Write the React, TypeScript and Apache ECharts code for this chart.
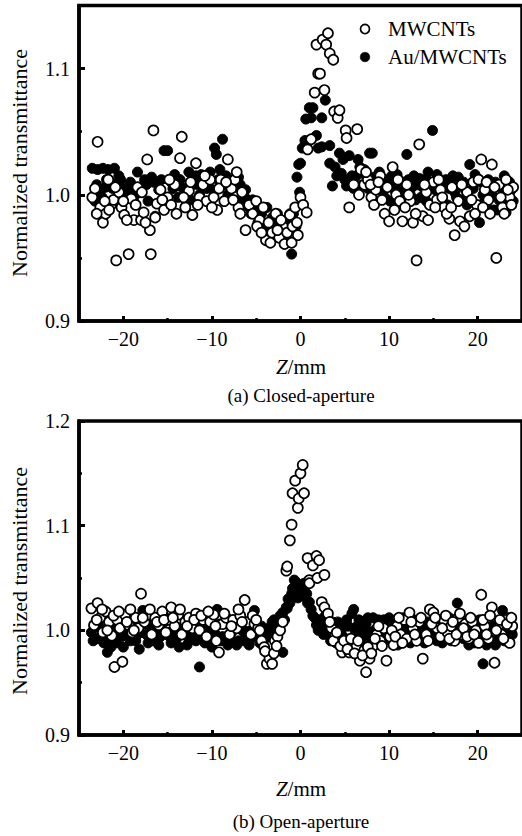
import React, { useEffect, useRef } from "react";
import * as echarts from "echarts";

const FONT = '"Liberation Serif", "Times New Roman", Times, serif';

// axis ticks
const xMajorTicks = [-20, -10, 0, 10, 20];
const xMinorTicks = [-15, -5, 5, 15];
const yMajorTicksA = [0.9, 1.0, 1.1];
const yMinorTicksA = [0.95, 1.05];
const yMajorTicksB = [0.9, 1.0, 1.1, 1.2];
const yMinorTicksB = [0.95, 1.05, 1.15];

const seriesNames = ["MWCNTs", "Au/MWCNTs"];

// (a) Closed-aperture, MWCNTs [Z(mm), T]
const closedMW: number[][] = [
  [-23.5, 0.998], [-23.2, 1.005], [-22.9, 1.042], [-22.6, 0.99], [-22.3, 0.978], [-22.0, 0.985],
  [-21.7, 1.012], [-21.4, 0.992], [-21.1, 0.996], [-20.8, 0.948], [-20.5, 1.002], [-20.2, 0.99],
  [-19.9, 0.984], [-19.4, 0.953], [-19.1, 0.997], [-18.8, 0.98], [-18.4, 1.006], [-18.0, 0.98],
  [-17.7, 0.986], [-17.3, 1.028], [-17.0, 0.972], [-16.9, 0.953], [-16.6, 1.051], [-16.2, 0.993],
  [-15.8, 1.004], [-15.4, 0.988], [-15.0, 0.998], [-14.6, 0.992], [-14.2, 1.008], [-13.6, 1.029],
  [-13.4, 1.046], [-13.0, 0.99], [-12.6, 1.003], [-12.2, 0.984], [-11.8, 1.025], [-11.4, 0.998],
  [-11.0, 1.008], [-10.6, 0.995], [-10.2, 1.012], [-9.8, 0.998], [-9.4, 0.988], [-9.0, 1.012],
  [-8.6, 0.995], [-8.2, 1.028], [-7.8, 1.005], [-7.4, 1.012], [-7.0, 0.99], [-6.6, 1.002],
  [-6.2, 0.972], [-5.8, 0.992], [-5.4, 0.985], [-5.0, 0.995], [-4.6, 0.98], [-4.2, 0.99],
  [-3.9, 0.964], [-3.6, 0.978], [-3.2, 0.97], [-2.8, 0.985], [-2.4, 0.966], [-2.0, 0.975],
  [-1.8, 0.961], [-1.5, 0.97], [-1.2, 0.984], [-0.9, 0.975], [-0.6, 0.99], [-0.3, 0.968],
  [0.0, 0.998], [0.3, 0.992], [0.7, 0.986], [0.8, 1.036], [1.2, 1.044], [1.6, 1.081],
  [1.8, 1.119], [2.0, 1.096], [2.2, 1.096], [2.5, 1.123], [2.7, 1.083], [2.9, 1.119],
  [3.1, 1.128], [3.3, 1.112], [3.7, 1.107], [3.8, 1.066], [4.2, 1.061], [4.4, 1.067],
  [5.1, 1.051], [5.2, 1.045], [5.5, 0.99], [6.4, 1.052], [6.8, 1.02], [7.2, 1.008],
  [7.6, 1.012], [8.0, 0.998], [8.5, 1.004], [9.0, 1.015], [9.5, 0.985], [10.0, 0.979],
  [10.4, 1.022], [10.8, 1.0], [11.2, 0.995], [11.5, 0.979], [12.0, 1.008], [12.4, 0.995],
  [12.7, 0.978], [13.1, 0.948], [13.4, 1.04], [13.8, 0.983], [14.2, 1.002], [14.6, 0.992],
  [15.0, 1.01], [15.4, 0.996], [15.8, 1.004], [16.2, 0.99], [16.8, 0.981], [17.1, 1.006],
  [17.4, 0.968], [17.8, 0.995], [18.0, 0.979], [18.5, 0.975], [18.8, 1.002], [19.1, 0.983],
  [19.5, 1.01], [19.9, 0.992], [20.4, 1.028], [20.8, 1.004], [21.2, 0.996], [21.6, 1.024],
  [22.1, 0.95], [22.4, 1.008], [22.8, 0.99], [23.2, 1.012], [23.6, 0.998], [24.0, 1.006],
];
const closedMWExtra: number[][] = [
  [-23.0, 0.985], [-22.1, 0.995], [-21.6, 0.988], [-20.9, 1.006], [-20.0, 0.995], [-19.6, 0.98],
  [-18.6, 0.992], [-17.9, 1.002], [-17.5, 0.978], [-16.4, 0.982], [-15.6, 0.996], [-14.8, 1.012],
  [-14.0, 0.985], [-13.2, 0.998], [-12.4, 1.01], [-11.6, 0.992], [-10.8, 1.015], [-10.0, 0.99],
  [-9.2, 1.005], [-8.4, 1.01], [-7.6, 0.996], [-7.2, 1.018], [-6.8, 0.985], [-4.9, 0.975],
  [-4.4, 0.97], [-3.4, 0.962], [-2.6, 0.972], [-2.2, 0.98], [-1.0, 0.962], [-0.4, 0.978],
  [6.0, 1.008], [6.6, 1.0], [7.4, 1.018], [7.9, 1.008], [8.3, 0.992], [8.8, 1.01],
  [9.2, 0.996], [9.8, 1.006], [10.6, 0.988], [11.0, 1.012], [11.8, 0.99], [12.2, 1.0],
  [13.0, 0.985], [14.0, 1.008], [14.4, 0.98], [15.2, 0.99], [15.6, 1.012], [16.0, 0.998],
  [16.5, 0.985], [17.0, 0.99], [18.2, 1.008], [19.3, 0.996], [19.7, 0.985], [20.1, 1.012],
  [20.6, 0.99], [21.0, 1.01], [21.4, 0.985], [21.9, 1.006], [22.6, 0.998], [23.0, 0.985],
  [23.4, 1.004], [23.8, 0.992],
];

// (a) Closed-aperture, Au/MWCNTs
const closedAu: number[][] = [
  [-23.5, 1.021], [-23.2, 0.995], [-22.9, 1.02], [-22.6, 1.003], [-22.3, 1.021], [-22.0, 1.006],
  [-21.7, 1.02], [-21.4, 1.01], [-21.0, 1.021], [-20.7, 1.004], [-20.3, 1.012], [-20.0, 1.008],
  [-19.6, 1.002], [-19.2, 1.01], [-18.8, 0.998], [-18.4, 1.018], [-18.0, 1.006], [-17.6, 1.012],
  [-17.2, 0.995], [-16.8, 1.014], [-16.4, 0.983], [-16.0, 1.004], [-15.4, 1.035], [-15.0, 1.035],
  [-14.6, 1.01], [-14.2, 1.016], [-13.8, 0.998], [-13.4, 1.006], [-13.0, 0.99], [-12.6, 1.018],
  [-12.2, 1.008], [-11.8, 1.015], [-11.4, 1.0], [-11.0, 1.012], [-10.6, 1.005], [-10.2, 1.018],
  [-9.7, 1.037], [-9.5, 1.032], [-9.1, 1.02], [-8.8, 1.044], [-8.4, 1.015], [-8.0, 1.005],
  [-7.6, 1.012], [-7.2, 0.995], [-6.8, 1.008], [-6.4, 1.0], [-6.0, 0.996], [-5.6, 0.985],
  [-5.2, 0.99], [-4.8, 0.978], [-4.4, 0.985], [-4.0, 0.975], [-3.8, 0.99], [-3.5, 0.972],
  [-3.2, 0.982], [-2.8, 0.97], [-2.5, 0.978], [-2.2, 0.972], [-1.9, 0.968], [-1.6, 0.98],
  [-1.3, 0.975], [-1.0, 0.953], [-0.8, 0.985], [-0.5, 0.975], [-0.4, 1.014], [-0.2, 1.024],
  [-0.1, 1.002], [0.0, 1.025], [0.2, 1.037], [0.5, 1.043], [0.6, 1.06], [1.0, 1.069],
  [1.2, 1.061], [1.4, 1.069], [1.8, 1.047], [2.0, 1.037], [2.4, 1.061], [2.4, 1.038],
  [2.8, 1.075], [3.3, 1.039], [3.3, 1.025], [3.6, 1.007], [4.1, 1.015], [4.4, 1.033],
  [4.6, 1.017], [5.2, 1.007], [5.5, 1.031], [5.8, 1.015], [6.3, 1.015], [6.7, 1.022],
  [7.0, 1.008], [7.4, 1.015], [7.8, 1.033], [8.1, 1.033], [8.5, 1.01], [8.9, 1.018],
  [9.3, 1.005], [9.7, 1.012], [10.1, 0.995], [10.5, 1.01], [10.9, 1.016], [11.3, 1.004],
  [11.7, 1.01], [12.0, 1.032], [12.4, 1.0], [12.8, 1.015], [13.2, 1.008], [13.6, 0.998],
  [14.0, 1.012], [14.4, 1.018], [14.9, 1.051], [15.2, 1.004], [15.6, 1.01], [16.0, 0.995],
  [16.4, 1.012], [16.8, 1.005], [17.2, 1.015], [17.6, 0.998], [18.0, 1.008], [18.4, 1.01],
  [18.8, 0.992], [19.1, 1.024], [19.5, 1.005], [19.9, 1.012], [20.2, 0.978], [20.6, 1.0],
  [21.0, 0.99], [21.4, 1.008], [21.8, 0.988], [22.2, 0.988], [22.7, 0.989], [23.0, 1.015],
  [23.4, 0.996], [23.8, 1.004],
];
const closedAuExtra: number[][] = [
  [-23.0, 1.008], [-22.4, 0.998], [-21.9, 1.012], [-21.2, 1.005], [-20.5, 1.015], [-19.9, 0.996],
  [-19.0, 1.006], [-18.2, 1.002], [-17.4, 1.008], [-16.6, 1.01], [-15.7, 1.012], [-15.2, 0.998],
  [-14.4, 1.005], [-13.6, 1.012], [-12.9, 1.004], [-12.4, 0.996], [-11.6, 1.008], [-11.2, 1.016],
  [-10.4, 1.01], [-9.9, 1.004], [-9.3, 1.012], [-8.6, 1.008], [-8.2, 1.0], [-7.4, 1.006],
  [-7.0, 1.014], [-6.6, 0.994], [-6.2, 1.004], [-5.8, 0.99], [-5.4, 0.996], [-4.6, 0.982],
  [-4.2, 0.97], [-3.0, 0.975], [-2.6, 0.985], [-2.0, 0.975], [-1.4, 0.97], [-1.2, 0.985],
  [3.9, 1.022], [4.8, 1.028], [5.0, 1.012], [6.0, 1.005], [6.5, 1.028], [7.2, 1.02],
  [7.6, 1.005], [8.3, 1.014], [8.7, 1.004], [9.1, 1.012], [9.5, 0.998], [9.9, 1.008],
  [10.3, 1.015], [10.7, 1.003], [11.1, 1.01], [11.5, 0.998], [12.2, 1.012], [12.6, 1.006],
  [13.0, 0.996], [13.4, 1.013], [13.8, 1.006], [14.2, 0.995], [14.7, 1.01], [15.4, 1.016],
  [15.8, 0.998], [16.2, 1.006], [16.6, 0.992], [17.0, 1.008], [17.4, 1.002], [17.8, 1.014],
  [18.2, 0.996], [18.6, 1.004], [19.3, 0.996], [19.7, 1.016], [20.4, 1.01], [20.8, 0.995],
  [21.2, 1.012], [21.6, 1.0], [22.0, 1.01], [22.4, 0.996], [22.9, 1.004], [23.2, 0.986],
  [23.6, 1.01], [24.0, 0.995],
];

// (b) Open-aperture, MWCNTs
const openMW: number[][] = [
  [-23.6, 1.021], [-23.3, 1.005], [-22.9, 1.026], [-22.6, 1.012], [-22.3, 0.998], [-22.0, 1.018],
  [-21.6, 1.008], [-21.3, 0.995], [-21.0, 0.965], [-20.7, 1.01], [-20.4, 1.002], [-20.1, 0.97],
  [-19.8, 1.015], [-19.4, 1.005], [-19.0, 0.998], [-18.6, 1.012], [-18.3, 1.002], [-18.0, 1.035],
  [-17.6, 1.008], [-17.2, 1.015], [-16.8, 0.996], [-16.4, 1.012], [-16.0, 1.005], [-15.6, 1.018],
  [-15.2, 0.998], [-14.9, 1.01], [-14.6, 1.022], [-14.2, 1.004], [-13.8, 1.015], [-13.4, 0.996],
  [-13.0, 1.008], [-12.6, 1.012], [-12.2, 1.002], [-11.8, 1.016], [-11.4, 1.0], [-11.0, 1.01],
  [-10.6, 0.994], [-10.2, 1.008], [-9.8, 1.015], [-9.5, 0.99], [-9.2, 0.979], [-8.8, 1.006],
  [-8.4, 1.012], [-8.0, 0.996], [-7.6, 1.01], [-7.2, 1.002], [-6.8, 1.014], [-6.3, 1.029],
  [-6.0, 1.008], [-5.6, 0.996], [-5.2, 1.006], [-4.8, 1.002], [-4.4, 0.99], [-4.1, 0.984],
  [-3.8, 0.968], [-3.5, 0.973], [-3.2, 0.968], [-2.9, 0.99], [-2.6, 0.994], [-2.3, 1.0],
  [-2.0, 1.008], [-1.6, 1.057], [-1.5, 1.061], [-1.2, 1.086], [-1.0, 1.101], [-0.9, 1.131],
  [-0.6, 1.143], [-0.3, 1.117], [-0.2, 1.126], [0.0, 1.15], [0.25, 1.158], [0.4, 1.131],
  [0.8, 1.069], [1.0, 1.048], [1.0, 1.045], [1.4, 1.062], [1.8, 1.071], [1.9, 1.05],
  [2.1, 1.067], [2.4, 1.027], [2.7, 1.053], [2.7, 1.022], [3.1, 1.016], [3.5, 1.002],
  [3.9, 0.995], [4.3, 0.988], [4.7, 0.979], [5.1, 0.99], [5.5, 0.979], [5.9, 0.986],
  [6.3, 0.984], [6.7, 0.971], [7.2, 0.981], [7.4, 0.96], [7.8, 0.973], [8.2, 0.985],
  [8.6, 0.996], [9.0, 0.99], [9.4, 1.002], [9.7, 0.971], [10.1, 0.994], [10.5, 0.986],
  [10.9, 1.004], [11.3, 0.996], [11.7, 1.01], [12.0, 0.992], [12.3, 1.017], [12.7, 1.002],
  [13.1, 0.99], [13.4, 1.008], [13.8, 0.973], [14.2, 0.996], [14.6, 1.02], [15.0, 1.017],
  [15.4, 1.002], [15.8, 0.994], [16.2, 1.01], [16.6, 0.998], [17.0, 1.004], [17.4, 0.99],
  [17.8, 1.012], [18.2, 0.996], [18.6, 1.006], [19.0, 0.992], [19.4, 1.008], [19.8, 1.0],
  [20.1, 0.988], [20.4, 1.034], [20.8, 1.004], [21.2, 0.992], [21.6, 1.022], [21.9, 0.969],
  [22.3, 1.002], [22.7, 0.996], [23.1, 1.01], [23.6, 0.988], [23.9, 1.004],
];
const openMWExtra: number[][] = [
  [-23.0, 1.01], [-22.4, 1.02], [-21.8, 1.0], [-21.1, 1.014], [-20.5, 1.018], [-19.6, 1.008],
  [-19.2, 1.02], [-18.8, 1.0], [-17.8, 1.012], [-17.0, 1.02], [-16.2, 1.008], [-15.4, 1.01],
  [-14.4, 1.012], [-13.6, 1.02], [-12.8, 1.004], [-12.0, 1.01], [-11.2, 1.014], [-10.4, 1.018],
  [-9.6, 1.004], [-8.6, 1.016], [-7.8, 1.004], [-7.0, 1.02], [-6.6, 1.008], [-5.4, 1.014],
  [-5.0, 1.01], [-4.6, 1.0], [-4.0, 0.98], [-3.0, 0.978], [-2.7, 0.985],
  [3.3, 1.008], [3.7, 0.99], [4.1, 0.998], [4.5, 0.985], [4.9, 0.99], [5.3, 0.982],
  [5.7, 0.992], [6.1, 0.978], [6.5, 0.99], [7.0, 0.976], [7.6, 0.984], [8.0, 0.978],
  [8.4, 0.992], [8.8, 1.004], [9.2, 0.985], [10.3, 1.0], [10.7, 0.994], [11.1, 1.012],
  [11.5, 0.988], [12.5, 1.008], [12.9, 0.996], [13.6, 1.012], [14.4, 0.99], [14.8, 1.006],
  [15.2, 1.012], [16.0, 1.002], [16.4, 1.014], [16.8, 0.992], [17.2, 1.008], [17.6, 0.996],
  [18.0, 1.016], [18.4, 1.002], [18.8, 0.994], [19.2, 1.012], [19.6, 0.996], [20.6, 1.01],
  [21.0, 0.996], [21.4, 1.014], [22.1, 1.0], [22.5, 1.01], [22.9, 0.992], [23.3, 1.006],
  [23.8, 1.012],
];

// (b) Open-aperture, Au/MWCNTs
const openAu: number[][] = [
  [-23.6, 0.998], [-23.3, 1.004], [-23.0, 0.992], [-22.6, 1.002], [-22.2, 0.988], [-21.8, 0.979],
  [-21.4, 0.984], [-21.0, 0.998], [-20.6, 1.008], [-20.2, 0.994], [-19.8, 1.004], [-19.4, 0.996],
  [-19.0, 1.01], [-18.6, 0.99], [-18.2, 0.982], [-17.8, 1.019], [-17.4, 0.996], [-17.0, 1.006],
  [-16.6, 0.99], [-16.2, 1.002], [-15.8, 0.994], [-15.4, 1.008], [-15.0, 0.996], [-14.6, 0.988],
  [-14.2, 1.004], [-13.7, 0.984], [-13.4, 0.998], [-13.0, 1.006], [-12.6, 0.992], [-12.2, 1.002],
  [-11.8, 0.99], [-11.4, 0.965], [-11.0, 0.996], [-10.6, 1.004], [-10.2, 0.992], [-9.8, 1.0],
  [-9.4, 1.02], [-9.0, 0.99], [-8.6, 1.006], [-8.2, 0.986], [-7.8, 0.998], [-7.4, 1.004],
  [-7.0, 0.99], [-6.6, 1.0], [-6.2, 0.994], [-5.8, 0.986], [-5.5, 1.004], [-5.2, 1.019],
  [-4.8, 0.996], [-4.4, 1.004], [-4.0, 0.992], [-3.6, 1.002], [-3.2, 1.008], [-2.8, 0.998],
  [-2.5, 1.006], [-2.2, 1.012], [-2.0, 0.979], [-2.0, 1.017], [-1.5, 1.021], [-1.2, 1.026],
  [-1.0, 1.035], [-0.7, 1.048], [-0.5, 1.046], [-0.3, 1.031], [0.1, 1.043], [0.2, 1.038],
  [0.5, 1.032], [0.8, 1.026], [1.0, 1.027], [1.4, 1.014], [1.8, 1.005], [2.2, 1.01],
  [2.6, 0.996], [3.0, 1.004], [3.4, 0.99], [3.8, 0.996], [4.2, 1.008], [4.6, 1.0],
  [5.0, 0.99], [5.4, 1.004], [5.8, 1.016], [6.2, 0.998], [6.6, 1.01], [7.0, 0.994],
  [7.4, 1.006], [7.8, 0.998], [8.2, 1.012], [8.6, 1.002], [9.0, 0.994], [9.4, 1.01],
  [9.8, 1.0], [10.2, 0.99], [10.6, 1.004], [11.0, 0.986], [11.4, 1.0], [11.8, 1.008],
  [12.2, 0.994], [12.6, 1.004], [13.0, 0.998], [13.4, 1.01], [13.8, 0.992], [14.2, 1.004],
  [14.6, 0.996], [15.0, 1.008], [15.4, 0.99], [15.8, 1.002], [16.2, 0.994], [16.6, 1.006],
  [17.0, 0.99], [17.4, 1.0], [17.7, 1.026], [18.0, 1.004], [18.4, 0.992], [18.8, 1.008],
  [19.2, 0.998], [19.6, 0.988], [20.0, 1.004], [20.3, 0.996], [20.6, 0.968], [21.0, 0.986],
  [21.4, 1.002], [21.8, 0.99], [22.2, 1.006], [22.5, 0.994], [22.8, 1.019], [23.2, 1.0],
  [23.6, 1.008], [23.9, 0.996],
];
const openAuExtra: number[][] = [
  [-23.4, 0.99], [-22.8, 1.008], [-22.4, 0.996], [-21.6, 0.992], [-21.2, 1.006], [-20.8, 0.988],
  [-20.4, 1.0], [-20.0, 0.984], [-19.6, 1.01], [-19.2, 0.99], [-18.8, 1.004], [-18.4, 0.996],
  [-17.6, 1.006], [-17.2, 0.988], [-16.8, 0.998], [-16.4, 1.01], [-16.0, 0.986], [-15.6, 1.0],
  [-15.2, 1.012], [-14.8, 0.994], [-14.4, 1.0], [-14.0, 0.992], [-13.2, 1.004], [-12.8, 0.986],
  [-12.4, 0.998], [-12.0, 1.01], [-11.6, 0.996], [-11.2, 1.006], [-10.8, 0.988], [-10.4, 1.0],
  [-10.0, 0.984], [-9.6, 0.996], [-9.2, 1.006], [-8.8, 0.994], [-8.4, 1.01], [-8.0, 0.992],
  [-7.6, 1.0], [-7.2, 0.986], [-6.8, 1.008], [-6.4, 0.99], [-6.0, 1.004], [-5.6, 0.992],
  [-5.0, 1.0], [-4.6, 0.988], [-4.2, 1.0], [-3.8, 0.994], [-3.4, 0.996], [-3.0, 1.01],
  [-2.6, 1.004], [-2.3, 1.014], [-1.8, 1.01], [-1.6, 1.022], [-1.4, 1.03], [-0.9, 1.04],
  [-0.4, 1.038], [0.0, 1.033], [0.4, 1.045], [0.7, 1.035], [1.2, 1.02], [1.6, 1.012],
  [2.0, 1.0], [2.4, 1.006], [2.8, 1.014], [3.2, 0.996], [3.6, 1.008], [4.0, 0.988],
  [4.4, 1.004], [4.8, 0.994], [5.2, 1.01], [5.6, 0.992], [6.0, 1.02], [6.4, 1.004],
  [6.8, 0.988], [7.2, 1.0], [7.6, 1.012], [8.0, 0.99], [8.4, 1.0], [8.8, 1.01],
  [9.2, 0.988], [9.6, 1.004], [10.0, 1.012], [10.4, 0.996], [10.8, 1.008], [11.2, 0.992],
  [11.6, 1.012], [12.0, 1.0], [12.4, 0.988], [12.8, 1.01], [13.2, 0.994], [13.6, 1.004],
  [14.0, 0.988], [14.4, 1.008], [14.8, 1.0], [15.2, 0.996], [15.6, 1.01], [16.0, 0.988],
  [16.4, 0.998], [16.8, 1.012], [17.2, 0.994], [18.2, 1.008], [18.6, 0.996], [19.0, 0.986],
  [19.4, 1.004], [19.8, 0.992], [20.2, 1.01], [20.9, 1.0], [21.2, 0.988], [21.6, 1.004],
  [22.0, 0.986], [22.4, 1.0], [23.0, 0.99], [23.4, 1.012], [23.8, 0.998],
];

const minusFmt = (v: number) => (v < 0 ? "\u2212" + Math.abs(v) : String(v));

function xAxes(gridIndex: number) {
  const common = {
    gridIndex,
    type: "value" as const,
    min: -25,
    max: 25,
    position: "bottom" as const,
    splitLine: { show: false },
  };
  return [
    {
      ...common,
      axisLine: { show: true, onZero: false, lineStyle: { color: "#000", width: 3.5 } },
      axisTick: { show: true, inside: true, length: 5, customValues: xMajorTicks, lineStyle: { color: "#000", width: 3 } },
      axisLabel: {
        show: true,
        customValues: xMajorTicks,
        formatter: minusFmt,
        color: "#000",
        fontFamily: FONT,
        fontSize: 20,
        margin: 8,
      },
    },
    {
      ...common,
      axisLine: { show: false, onZero: false },
      axisTick: { show: true, inside: true, length: 3, customValues: xMinorTicks, lineStyle: { color: "#000", width: 2.5 } },
      axisLabel: { show: false },
    },
  ];
}

function yAxes(gridIndex: number, max: number, major: number[], minor: number[]) {
  const common = {
    gridIndex,
    type: "value" as const,
    min: 0.9,
    max,
    position: "left" as const,
    splitLine: { show: false },
  };
  return [
    {
      ...common,
      axisLine: { show: true, onZero: false, lineStyle: { color: "#000", width: 3.5 } },
      axisTick: { show: true, inside: true, length: 6, customValues: major, lineStyle: { color: "#000", width: 3 } },
      axisLabel: {
        show: true,
        customValues: major,
        formatter: (v: number) => v.toFixed(1),
        color: "#000",
        fontFamily: FONT,
        fontSize: 20,
        margin: 9,
      },
    },
    {
      ...common,
      axisLine: { show: false, onZero: false },
      axisTick: { show: true, inside: true, length: 3, customValues: minor, lineStyle: { color: "#000", width: 2.5 } },
      axisLabel: { show: false },
    },
  ];
}

const openStyle = { color: "#fff", borderColor: "#000", borderWidth: 1.7, opacity: 1 };
const filledStyle = { color: "#000", borderColor: "#000", borderWidth: 1, opacity: 1 };

function textEl(x: number, y: number, text: string, size: number, extra: any = {}) {
  return {
    type: "text",
    x,
    y,
    ...extra,
    style: {
      text,
      fill: "#000",
      fontFamily: FONT,
      fontSize: size,
      align: "center",
      verticalAlign: "middle",
      ...(extra.style || {}),
    },
  };
}

function zLabel(x: number, y: number) {
  return {
    type: "text",
    x,
    y,
    style: {
      text: "{i|Z}{n|/mm}",
      align: "center",
      verticalAlign: "middle",
      fill: "#000",
      rich: {
        i: { fontFamily: FONT, fontSize: 21, fontStyle: "italic", fill: "#000" },
        n: { fontFamily: FONT, fontSize: 21, fill: "#000" },
      },
    },
  };
}

export default function App() {
  const ref = useRef<HTMLDivElement>(null);
  useEffect(() => {
    if (!ref.current) return;
    const chart = echarts.init(ref.current, null, { renderer: "svg" });
    const sym = { type: "scatter", symbol: "circle", symbolSize: 10, emphasis: { disabled: true } };
    const option: any = {
      animation: false,
      backgroundColor: "#fff",
      grid: [
        { left: 79, top: 5.5, width: 446, height: 315.5, show: true, borderColor: "#000", borderWidth: 3.5, backgroundColor: "transparent" },
        { left: 79, top: 421, width: 446, height: 314, show: true, borderColor: "#000", borderWidth: 3.5, backgroundColor: "transparent" },
      ],
      xAxis: [...xAxes(0), ...xAxes(1)],
      yAxis: [
        ...yAxes(0, 1.15, yMajorTicksA, yMinorTicksA),
        ...yAxes(1, 1.2, yMajorTicksB, yMinorTicksB),
      ],
      series: [
        { ...sym, name: seriesNames[1], xAxisIndex: 0, yAxisIndex: 0, itemStyle: filledStyle, data: [...closedAu, ...closedAuExtra] },
        { ...sym, name: seriesNames[0], xAxisIndex: 0, yAxisIndex: 0, itemStyle: openStyle, data: [...closedMW, ...closedMWExtra] },
        { ...sym, name: seriesNames[1], xAxisIndex: 2, yAxisIndex: 2, itemStyle: filledStyle, data: [...openAu, ...openAuExtra] },
        { ...sym, name: seriesNames[0], xAxisIndex: 2, yAxisIndex: 2, itemStyle: openStyle, data: [...openMW, ...openMWExtra] },
      ],
      graphic: [
        { type: "circle", shape: { cx: 365, cy: 29, r: 4.5 }, style: { fill: "#fff", stroke: "#000", lineWidth: 1.7 } },
        textEl(388, 29, seriesNames[0], 21, { style: { align: "left" } }),
        { type: "circle", shape: { cx: 365, cy: 57, r: 4.8 }, style: { fill: "#000", stroke: "#000", lineWidth: 0.5 } },
        textEl(388, 57, seriesNames[1], 21, { style: { align: "left" } }),
        textEl(19, 163, "Normalized transmittance", 22, { rotation: Math.PI / 2 }),
        textEl(19, 581, "Normalized transmittance", 22, { rotation: Math.PI / 2 }),
        zLabel(301, 367),
        textEl(301, 395, "(a) Closed-aperture", 19),
        zLabel(301, 789),
        textEl(301, 821, "(b) Open-aperture", 19),
      ],
    };
    chart.setOption(option);
    return () => chart.dispose();
  }, []);
  return (
    <div
      ref={ref}
      style={{ position: "absolute", left: 0, top: 0, width: 522, height: 836, background: "#fff" }}
    />
  );
}
